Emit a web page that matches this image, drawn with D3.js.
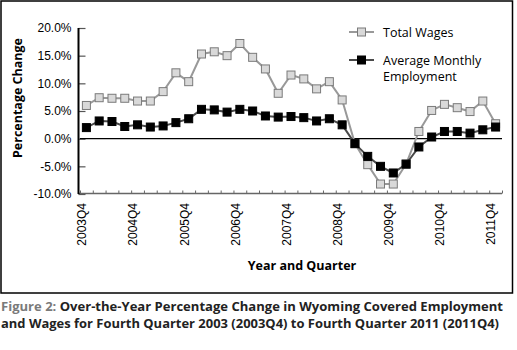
<!DOCTYPE html>
<html>
<head>
<meta charset="utf-8">
<script src="https://cdn.jsdelivr.net/npm/d3@7"></script>
<style>
  body { margin: 0; background: #fff; }
  svg { display: block; }
</style>
</head>
<body>
<div id="chart"></div>
<script>
// quarters 2003Q4 .. 2011Q4
var quarters = ["2003Q4",
  "2004Q1","2004Q2","2004Q3","2004Q4",
  "2005Q1","2005Q2","2005Q3","2005Q4",
  "2006Q1","2006Q2","2006Q3","2006Q4",
  "2007Q1","2007Q2","2007Q3","2007Q4",
  "2008Q1","2008Q2","2008Q3","2008Q4",
  "2009Q1","2009Q2","2009Q3","2009Q4",
  "2010Q1","2010Q2","2010Q3","2010Q4",
  "2011Q1","2011Q2","2011Q3","2011Q4"];

var totalWages = [6.0, 7.4, 7.3, 7.3, 6.8, 6.8, 8.5, 11.9, 10.3, 15.3, 15.7, 15.0, 17.2,
  14.7, 12.6, 8.2, 11.5, 10.8, 9.0, 10.3, 7.0, -0.9, -4.7, -8.2, -8.2,
  -4.6, 1.3, 5.1, 6.2, 5.6, 4.9, 6.8, 2.7];

var avgEmployment = [2.0, 3.2, 3.1, 2.2, 2.5, 2.1, 2.3, 2.9, 3.6, 5.3, 5.2, 4.8, 5.3,
  5.0, 4.1, 3.9, 4.0, 3.8, 3.2, 3.6, 2.5, -0.9, -3.2, -5.0, -6.2,
  -4.6, -1.5, 0.3, 1.3, 1.3, 1.0, 1.6, 2.1];

var yTicks = [-10, -5, 0, 5, 10, 15, 20];
var xLabels = ["2003Q4","2004Q4","2005Q4","2006Q4","2007Q4","2008Q4","2009Q4","2010Q4","2011Q4"];

var W = 517, H = 350;
var plotL = 80, plotR = 502, plotT = 28, plotB = 194;

var svg = d3.select("#chart").append("svg")
  .attr("width", W)
  .attr("height", H);

// frame
svg.append("rect")
  .attr("x", 1).attr("y", 1)
  .attr("width", 511.5).attr("height", 292)
  .attr("fill", "none")
  .attr("stroke", "#000")
  .attr("stroke-width", 1.5);

var x = d3.scaleBand().domain(quarters).range([plotL, plotR]).padding(0);
var xIdx = d3.scaleLinear().domain([0, quarters.length]).range([plotL, plotR]);
var y = d3.scaleLinear().domain([-10, 20]).range([plotB, plotT]);

var cx = function(i) { return x(quarters[i]) + x.bandwidth() / 2; };

// y axis
var yAxis = svg.append("g")
  .attr("transform", "translate(" + (plotL - 1.5) + ",0)")
  .call(d3.axisLeft(y).tickValues(yTicks).tickSize(-7).tickPadding(7)
    .tickFormat(function(d) { return d.toFixed(1) + "%"; }));
yAxis.select(".domain").remove();
yAxis.selectAll(".tick line").attr("stroke", "#555").attr("stroke-width", 1.2);
yAxis.selectAll(".tick text")
  .attr("font-family", "Liberation Sans, Arial, sans-serif")
  .attr("font-size", 12)
  .attr("fill", "#000");

// x axis
var xAxis = svg.append("g")
  .attr("transform", "translate(0," + (plotB - 0.5) + ")")
  .call(d3.axisBottom(xIdx).tickValues(d3.range(quarters.length + 1)).tickSize(-3).tickFormat(""));
xAxis.select(".domain").attr("stroke", "#666").attr("stroke-width", 1.5)
  .attr("d", "M" + (plotL - 2) + ",0H" + plotR);
xAxis.selectAll(".tick line").attr("stroke", "#666").attr("stroke-width", 1);

svg.append("line")
  .attr("x1", plotL - 1.5).attr("x2", plotL - 1.5)
  .attr("y1", plotT).attr("y2", plotB)
  .attr("stroke", "#000").attr("stroke-width", 2);

// x labels
svg.append("g").selectAll("text")
  .data(xLabels)
  .enter()
  .append("text")
  .attr("transform", function(d) {
    return "translate(" + (x(d) + 2) + "," + 203 + ") rotate(-90)";
  })
  .attr("dy", "0.35em")
  .attr("text-anchor", "end")
  .attr("font-family", "Liberation Sans, Arial, sans-serif")
  .attr("font-size", 12)
  .text(function(d) { return d; });

// zero line
svg.append("line")
  .attr("x1", plotL).attr("x2", plotR)
  .attr("y1", y(0)).attr("y2", y(0))
  .attr("stroke", "#000").attr("stroke-width", 1.2);

var line = d3.line()
  .x(function(d, i) { return cx(i); })
  .y(function(d) { return y(d); });

var series = [
  { name: "Total Wages", values: totalWages, line: "#999", fill: "#d9d9d9", stroke: "#7a7a7a" },
  { name: "Average Monthly Employment", values: avgEmployment, line: "#4a4a4a", fill: "#000", stroke: "#000" }
];

var ms = 8;
series.forEach(function(s) {
  svg.append("path")
    .datum(s.values)
    .attr("fill", "none")
    .attr("stroke", s.line)
    .attr("stroke-width", 2)
    .attr("d", line);
  svg.append("g").selectAll("rect")
    .data(s.values)
    .enter()
    .append("rect")
    .attr("x", function(d, i) { return cx(i) - ms / 2; })
    .attr("y", function(d) { return y(d) - ms / 2; })
    .attr("width", ms).attr("height", ms)
    .attr("fill", s.fill)
    .attr("stroke", s.stroke)
    .attr("stroke-width", 1);
});

// legend
var legY = [32, 60];
series.forEach(function(s, i) {
  svg.append("line")
    .attr("x1", 349).attr("x2", 374)
    .attr("y1", legY[i]).attr("y2", legY[i])
    .attr("stroke", s.line).attr("stroke-width", 2);
  svg.append("rect")
    .attr("x", 361.5 - ms / 2).attr("y", legY[i] - ms / 2)
    .attr("width", ms).attr("height", ms)
    .attr("fill", s.fill).attr("stroke", s.stroke);
});
var legText = svg.append("g")
  .attr("font-family", "Open Sans, sans-serif")
  .attr("font-size", 12.5)
  .attr("fill", "#000");
legText.append("text").attr("x", 383).attr("y", 37).text("Total Wages");
legText.append("text").attr("x", 383).attr("y", 65).text("Average Monthly");
legText.append("text").attr("x", 383).attr("y", 81).text("Employment");

// axis titles
svg.append("text")
  .attr("transform", "translate(22,98) rotate(-90)")
  .attr("text-anchor", "middle")
  .attr("font-family", "Open Sans, sans-serif")
  .attr("font-weight", "bold")
  .attr("font-size", 12.5)
  .text("Percentage Change");

svg.append("text")
  .attr("x", 302).attr("y", 270)
  .attr("text-anchor", "middle")
  .attr("font-family", "Open Sans, sans-serif")
  .attr("font-weight", "bold")
  .attr("font-size", 12.5)
  .text("Year and Quarter");

// caption
var cap1 = svg.append("text")
  .attr("x", 1).attr("y", 311)
  .attr("font-family", "Open Sans, sans-serif")
  .attr("font-weight", "bold")
  .attr("font-size", 13)
  .attr("fill", "#222")
  .attr("textLength", 502)
  .attr("lengthAdjust", "spacingAndGlyphs");
cap1.append("tspan").attr("fill", "#7a7a7a").text("Figure 2: ");
cap1.append("tspan").text("Over-the-Year Percentage Change in Wyoming Covered Employment");

svg.append("text")
  .attr("x", 1).attr("y", 328)
  .attr("font-family", "Open Sans, sans-serif")
  .attr("font-weight", "bold")
  .attr("font-size", 13)
  .attr("fill", "#222")
  .attr("textLength", 498)
  .attr("lengthAdjust", "spacingAndGlyphs")
  .text("and Wages for Fourth Quarter 2003 (2003Q4) to Fourth Quarter 2011 (2011Q4)");
</script>
</body>
</html>
